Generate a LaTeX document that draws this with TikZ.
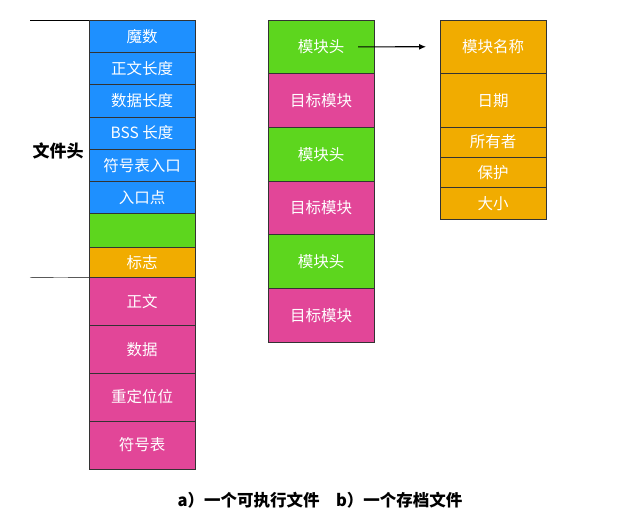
\documentclass[tikz,border=0pt]{standalone}
\usepackage{fontspec}
\setmainfont{Noto Sans CJK SC}
\usepackage{xcolor}
\usetikzlibrary{arrows.meta,positioning}
\definecolor{hdblue}{RGB}{30,144,255}
\definecolor{hdgreen}{RGB}{93,214,30}
\definecolor{hdorange}{RGB}{241,172,0}
\definecolor{hdpink}{RGB}{226,70,152}
\tikzset{
  cell/.style={
    rectangle,
    draw=black!80,
    line width=0.7pt,
    minimum width=106pt,
    inner sep=0pt,
    outer sep=0pt,
    text=white,
    font=\fontsize{15.5}{17}\selectfont
  },
  headcell/.style={cell, fill=hdblue, minimum height=32.3pt},
  bodycell/.style={cell, fill=hdpink, minimum height=47.9pt},
  modcell/.style={cell, minimum height=53.7pt},
  infocell/.style={cell, fill=hdorange},
  arrow/.style={
    -{Latex[length=7pt,width=6pt]},
    line width=1.1pt
  }
}

\begin{document}
\begin{tikzpicture}[x=1pt, y=1pt, node distance=0pt]
\useasboundingbox (0,0) rectangle (623,-523);

% a) executable file
\node[headcell, anchor=north] (magic) at (142,-20) {魔数};
\node[headcell, below=of magic] (textlen) {正文长度};
\node[headcell, below=of textlen] (datalen) {数据长度};
\node[headcell, below=of datalen] (bsslen) {BSS 长度};
\node[headcell, below=of bsslen] (symentry) {符号表入口};
\node[headcell, below=of symentry] (entry) {入口点};
\node[cell, fill=hdgreen, minimum height=33.5pt, below=of entry] (blank) {};
\node[cell, fill=hdorange, minimum height=30pt, below=of blank] (flag) {标志};
\node[bodycell, below=of flag] (text) {正文};
\node[bodycell, below=of text] (data) {数据};
\node[bodycell, below=of data] (reloc) {重定位位};
\node[bodycell, below=of reloc] (symtab) {符号表};

\coordinate (hdtop) at (30,-20);
\coordinate (hdbot) at (30,-277.7);
\draw (hdtop) -- (magic.north west);
\draw (hdbot) -- (flag.south west);
\node[font=\fontsize{17}{19}\selectfont\bfseries] (hdlabel) at (58,-151) {文件头};

% b) archive file
\node[modcell, fill=hdgreen, anchor=north] (mh1) at (321,-20) {模块头};
\node[modcell, fill=hdpink, below=of mh1] (om1) {目标模块};
\node[modcell, fill=hdgreen, below=of om1] (mh2) {模块头};
\node[modcell, fill=hdpink, below=of mh2] (om2) {目标模块};
\node[modcell, fill=hdgreen, below=of om2] (mh3) {模块头};
\node[modcell, fill=hdpink, below=of mh3] (om3) {目标模块};

\node[infocell, minimum height=53.5pt, anchor=north] (modname) at (493,-20) {模块名称};
\node[infocell, minimum height=53.5pt, below=of modname] (date) {日期};
\node[infocell, minimum height=30pt, below=of date] (owner) {所有者};
\node[infocell, minimum height=30.5pt, below=of owner] (prot) {保护};
\node[infocell, minimum height=31.5pt, below=of prot] (size) {大小};

\draw[arrow] ([xshift=37pt]mh1.center) -- ([xshift=-14pt]modname.west);

\node[font=\fontsize{16.5}{18}\selectfont\bfseries] (caption) at (320,-500) {a）一个可执行文件\quad b）一个存档文件};

\end{tikzpicture}
\end{document}
